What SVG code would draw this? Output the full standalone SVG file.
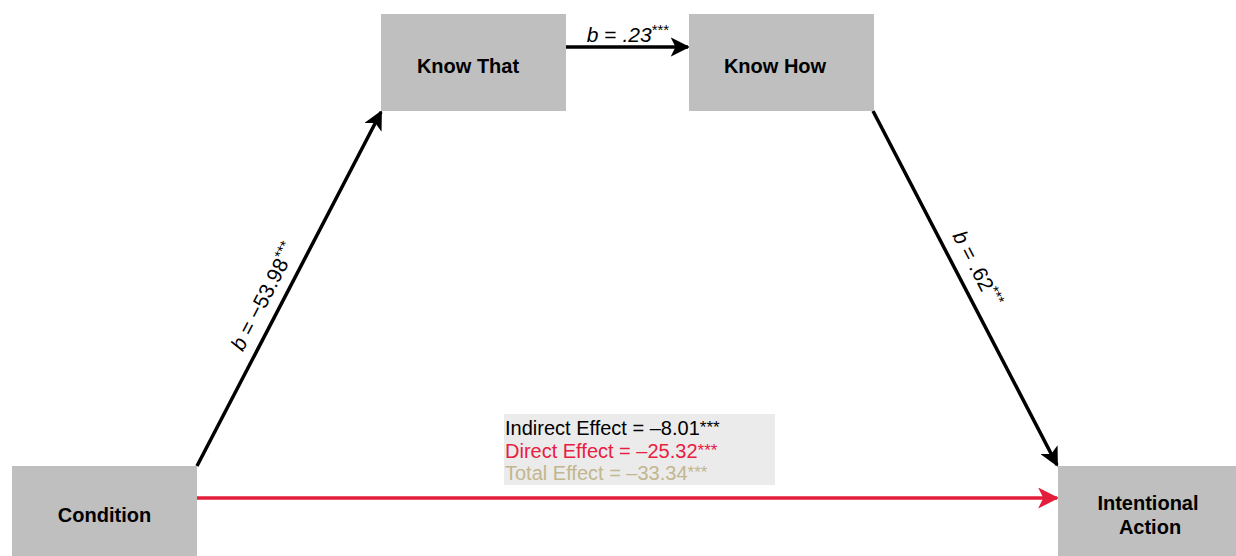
<svg xmlns="http://www.w3.org/2000/svg" width="1236" height="556" viewBox="0 0 1236 556">
<defs>
<style>
.node{fill:#bfbfbf;}
.nl{font-family:"Liberation Sans",Arial,sans-serif;font-weight:bold;font-size:20px;fill:#000;text-anchor:middle;}
.lbl{font-family:"Liberation Sans",Arial,sans-serif;font-size:21px;fill:#000;}
.eff{font-family:"Liberation Sans",Arial,sans-serif;font-size:20px;}
.edge{stroke:#000;stroke-width:3.5;fill:none;}
</style>
<marker id="ah" viewBox="0 0 10 10" refX="9" refY="5" markerWidth="5.5" markerHeight="5.5" orient="auto" markerUnits="strokeWidth">
<path d="M0,0 L10,5 L0,10 L2.5,5 Z" fill="#000"/>
</marker>
<marker id="ahr" viewBox="0 0 10 10" refX="9" refY="5" markerWidth="6" markerHeight="6" orient="auto" markerUnits="strokeWidth">
<path d="M0,0 L10,5 L0,10 L2.5,5 Z" fill="#e31e3a"/>
</marker>
</defs>
<rect width="1236" height="556" fill="#fff"/>
<g id="connectors">
<line class="edge" x1="566" y1="47" x2="688" y2="47" marker-end="url(#ah)"/>
<line class="edge" x1="197" y1="466" x2="381" y2="112" marker-end="url(#ah)"/>
<line class="edge" x1="873" y1="111" x2="1057" y2="465" marker-end="url(#ah)"/>
<line x1="197" y1="498" x2="1057" y2="498" stroke="#e31e3a" stroke-width="3.5" marker-end="url(#ahr)"/>
<text class="lbl" x="628" y="42" text-anchor="middle"><tspan font-style="italic">b</tspan> = <tspan font-style="italic">.23</tspan><tspan font-size="15" dy="-7">***</tspan></text>
<text class="lbl" transform="translate(270,300) rotate(-62.6)" text-anchor="middle"><tspan font-style="italic">b</tspan> = −53.98<tspan font-size="15" dy="-7">***</tspan></text>
<text class="lbl" transform="translate(971,272) rotate(62.6)" text-anchor="middle"><tspan font-style="italic">b</tspan> = .62<tspan font-size="15" dy="-7">***</tspan></text>
</g>
<g id="effects">
<rect x="504" y="414" width="271" height="71" fill="#ebebeb"/>
<text class="eff" x="505" y="435" fill="#000">Indirect Effect = –8.01<tspan font-size="17" dy="-2">***</tspan></text>
<text class="eff" x="505" y="458" fill="#e8203f">Direct Effect = –25.32<tspan font-size="17" dy="-2">***</tspan></text>
<text class="eff" x="505" y="480" fill="#c2b68e">Total Effect = –33.34<tspan font-size="17" dy="-2">***</tspan></text>
</g>
<g id="know-that">
<rect class="node" x="381" y="14" width="185" height="97"/>
<text class="nl" x="468" y="73">Know That</text>
</g>
<g id="know-how">
<rect class="node" x="689" y="14" width="185" height="97"/>
<text class="nl" x="775" y="73">Know How</text>
</g>
<g id="condition">
<rect class="node" x="12" y="466" width="185" height="97"/>
<text class="nl" x="104.5" y="522">Condition</text>
</g>
<g id="intentional-action">
<rect class="node" x="1058" y="466" width="185" height="97"/>
<text class="nl" x="1148" y="510">Intentional</text>
<text class="nl" x="1150" y="534">Action</text>
</g>
</svg>
